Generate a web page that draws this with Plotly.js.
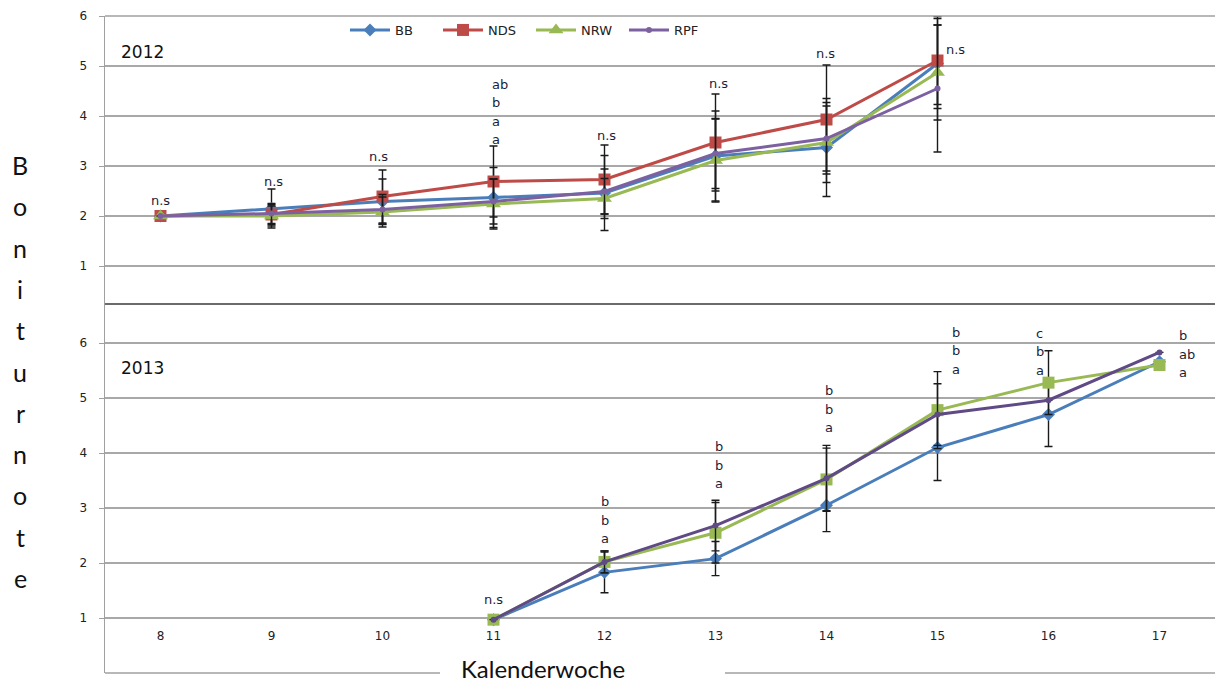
<!DOCTYPE html>
<html>
<head>
<meta charset="utf-8">
<script src="https://cdn.plot.ly/plotly-3.0.1.min.js"></script>
<style>html,body{margin:0;padding:0;background:#fff;}#chart{width:1218px;height:686px;}</style>
</head>
<body>
<div id="chart"></div>
<script>
// ---------- DATA ----------
const weeks = [8, 9, 10, 11, 12, 13, 14, 15, 16, 17];
const yTicks = [1, 2, 3, 4, 5, 6];

// 2012 (top panel)
const weeks2012 = [8, 9, 10, 11, 12, 13, 14, 15];
const bb2012  = [2.00, 2.15, 2.29, 2.37, 2.46, 3.20, 3.37, 5.05];
const nds2012 = [2.00, 2.03, 2.39, 2.69, 2.73, 3.47, 3.93, 5.11];
const nrw2012 = [2.00, 2.00, 2.08, 2.24, 2.35, 3.11, 3.47, 4.87];
const rpf2012 = [2.00, 2.05, 2.13, 2.29, 2.49, 3.25, 3.55, 4.55];
const bbErr2012  = [0, 0.39, 0.45, 0.60, 0.75, 0.90, 0.98, 0.90];
const ndsErr2012 = [0, 0.20, 0.53, 0.71, 0.69, 0.97, 1.09, 0.88];
const nrwErr2012 = [0, 0.20, 0.30, 0.50, 0.40, 0.83, 0.80, 0.95];
const rpfErr2012 = [0, 0.20, 0.30, 0.45, 0.45, 0.70, 0.65, 1.27];

// 2013 (bottom panel)
const weeks2013 = [11, 12, 13, 14, 15, 16, 17];
const bb2013  = [0.97, 1.83, 2.08, 3.05, 4.10, 4.70, 5.66];
const nrw2013 = [0.97, 2.02, 2.55, 3.52, 4.78, 5.28, 5.60];
const rpf2013 = [0.97, 2.02, 2.68, 3.54, 4.70, 4.96, 5.83];
const bbErr2013  = [0, 0.37, 0.31, 0.48, 0.60, 0.58, 0];
const nrwErr2013 = [0, 0.20, 0.55, 0.57, 0.70, 0.58, 0];
const rpfErr2013 = [0, 0.20, 0.46, 0.60, 0.56, 0, 0];

// significance letters: x (week), y of top line, text lines, anchor
const sigX2012 = [8.0, 9.02, 9.96, 10.97, 12.02, 13.03, 13.99, 15.06];
const sigY2012 = [2.31, 2.69, 3.19, 4.64, 3.62, 4.65, 5.25, 5.33];
const sigT2012 = [["n.s"], ["n.s"], ["n.s"], ["ab", "b", "a", "a"], ["n.s"], ["n.s"], ["n.s"], ["n.s"]];
const sigA2012 = ["center", "center", "center", "left", "center", "center", "center", "left"];

const sigX2013 = [11.0, 11.95, 12.98, 13.97, 15.11, 15.87, 17.16];
const sigY2013 = [1.33, 3.11, 4.11, 5.13, 6.20, 6.18, 6.13];
const sigT2013 = [["n.s"], ["b", "b", "a"], ["b", "b", "a"], ["b", "b", "a"], ["b", "b", "a"], ["c", "b", "a"], ["b", "ab", "a"]];
const sigA2013 = ["center", "left", "left", "left", "left", "left", "left"];

const yTitle = "Boniturnote";
const xTitle = "Kalenderwoche";

// ---------- STYLE ----------
const C = {BB: "#4a7ebb", NDS: "#be4b48", NRW: "#98b954", RPF: "#7d60a0", RPF2: "#5f4a86"};
const errStyle = {color: "#1a1a1a", thickness: 1.4, width: 4};
const W = 1218, H = 686, ML = 105, MR = 3, MT = 16, MB = 13;
const PH = H - MT - MB, PW = W - ML - MR;
const split = 1 - (304 - MT) / PH;
const py = p => 1 - (p - MT) / PH;   // pixel row -> paper fraction
const px = p => (p - ML) / PW;

function tr(x, y, err, name, color, sym, size, yaxis, showleg) {
  return {
    x: x, y: y, name: name, type: "scatter", mode: "lines+markers", yaxis: yaxis, xaxis: "x",
    showlegend: showleg, legendgroup: name,
    line: {color: color, width: 3},
    marker: {color: color, symbol: sym, size: size},
    error_y: Object.assign({type: "data", array: err, visible: true}, errStyle)
  };
}

const data = [
  tr(weeks2012, bb2012, bbErr2012, "BB", C.BB, "diamond", 10, "y", true),
  tr(weeks2012, nds2012, ndsErr2012, "NDS", C.NDS, "square", 12, "y", true),
  tr(weeks2012, nrw2012, nrwErr2012, "NRW", C.NRW, "triangle-up", 13, "y", true),
  tr(weeks2012, rpf2012, rpfErr2012, "RPF", C.RPF, "circle", 6, "y", true),
  tr(weeks2013, bb2013, bbErr2013, "BB", C.BB, "diamond", 10, "y2", false),
  tr(weeks2013, nrw2013, nrwErr2013, "NRW", C.NRW, "square", 12, "y2", false),
  tr(weeks2013, rpf2013, rpfErr2013, "RPF", C.RPF2, "circle", 6, "y2", false)
];

const sigFont = {family: "DejaVu Sans", size: 13, color: "#1d1d38"};
const annotations = [];
function addSig(xs, ys, ts, as, yref, step) {
  xs.forEach((x, i) => {
    ts[i].forEach((t, j) => {
      annotations.push({x: x, y: ys[i] - j * step, xref: "x", yref: yref, text: t, showarrow: false,
        xanchor: as[i], yanchor: "middle", font: sigFont});
    });
  });
}
addSig(sigX2012, sigY2012, sigT2012, sigA2012, "y", 18.5 / 50);
addSig(sigX2013, sigY2013, sigT2013, sigA2013, "y2", 18.5 / 55);

// year labels
annotations.push({xref: "paper", yref: "paper", x: px(119), y: py(52), text: "2012", showarrow: false, xanchor: "left", yanchor: "middle", font: {family: "DejaVu Sans", size: 17, color: "#111"}});
annotations.push({xref: "paper", yref: "paper", x: px(119), y: py(368), text: "2013", showarrow: false, xanchor: "left", yanchor: "middle", font: {family: "DejaVu Sans", size: 17, color: "#111"}});

// vertical y-axis title (stacked letters)
yTitle.split("").forEach((ch, i) => {
  annotations.push({xref: "paper", yref: "paper", x: px(20), y: py(165 + i * 41.3), text: ch, showarrow: false,
    xanchor: "center", yanchor: "middle", font: {family: "Lato", size: 25, color: "#111"}});
});
// x-axis title
annotations.push({xref: "paper", yref: "paper", x: px(543), y: py(668), text: xTitle, showarrow: false,
  xanchor: "center", yanchor: "middle", font: {family: "Lato", size: 24, color: "#111"}});

const yax = {
  tickvals: yTicks, showgrid: true, gridcolor: "#a8a8a8", gridwidth: 1.3, zeroline: false,
  showline: true, linecolor: "#a0a0a0", linewidth: 1.5, ticks: "outside", ticklen: 5, tickcolor: "#a0a0a0",
  ticklabelstandoff: 9,
  tickfont: {family: "DejaVu Sans", size: 12, color: "#222"}, fixedrange: true
};

const layout = {
  width: W, height: H,
  margin: {l: ML, r: MR, t: MT, b: MB, pad: 0},
  paper_bgcolor: "#ffffff", plot_bgcolor: "#ffffff",
  showlegend: true,
  legend: {orientation: "h", x: px(345), y: py(15), xanchor: "left", yanchor: "top",
    font: {family: "DejaVu Sans", size: 13, color: "#222"}, bgcolor: "rgba(0,0,0,0)",
    itemwidth: 40, entrywidth: 38, traceorder: "normal"},
  xaxis: {range: [7.5, 17.5], tickvals: weeks, anchor: "free", position: py(627),
    showgrid: false, zeroline: false, showline: false, ticks: "",
    tickfont: {family: "DejaVu Sans", size: 12, color: "#222"}, fixedrange: true},
  yaxis: Object.assign({}, yax, {domain: [split, 1], range: [0.24, 6]}),
  yaxis2: Object.assign({}, yax, {domain: [0, split], range: [0, 6.71]}),
  shapes: [
    {type: "line", xref: "paper", yref: "paper", x0: 0, x1: 1, y0: 1, y1: 1, line: {color: "#a0a0a0", width: 1.5}},
    {type: "line", xref: "paper", yref: "paper", x0: 0, x1: 1, y0: split, y1: split, line: {color: "#3a3a3a", width: 1.5}},
    {type: "line", xref: "paper", yref: "paper", x0: 0, x1: px(440), y0: 0, y1: 0, line: {color: "#a0a0a0", width: 1.5}},
    {type: "line", xref: "paper", yref: "paper", x0: px(725), x1: 1, y0: 0, y1: 0, line: {color: "#a0a0a0", width: 1.5}}
  ],
  annotations: annotations
};

Plotly.newPlot("chart", data, layout, {displayModeBar: false, staticPlot: true});
</script>
</body>
</html>
